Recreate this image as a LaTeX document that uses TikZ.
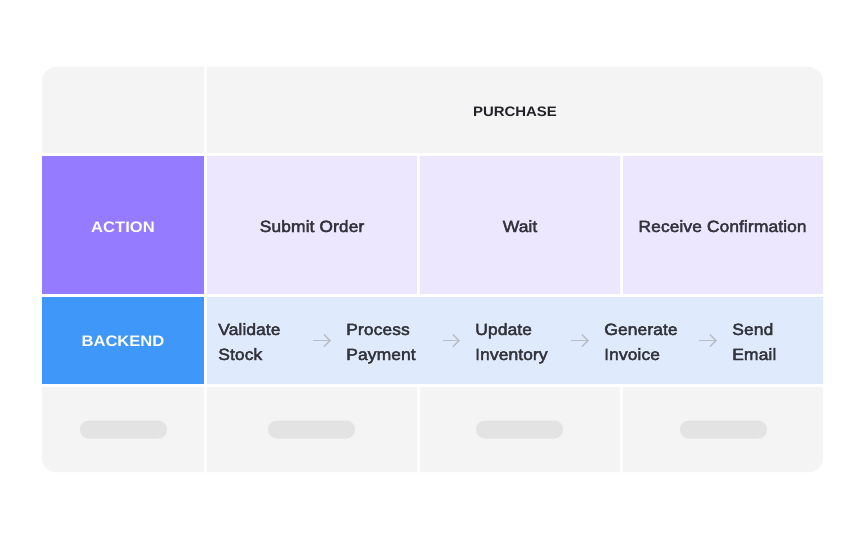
\documentclass[tikz,border=0pt]{standalone}
\usepackage{fontspec}
\setmainfont{Liberation Sans}[FakeStretch=1.09]
\newfontfamily\medfont{Liberation Sans}[FakeStretch=1.08,FakeBold=2.6]
\usetikzlibrary{arrows.meta}
\definecolor{bggray}{HTML}{F4F4F4}
\definecolor{actpurple}{HTML}{947BFF}
\definecolor{actlight}{HTML}{ECE6FE}
\definecolor{bkblue}{HTML}{3F97FA}
\definecolor{bklight}{HTML}{DFEBFC}
\definecolor{pillgray}{HTML}{E3E3E3}
\definecolor{textdark}{HTML}{33333B}
\definecolor{hdrdark}{HTML}{222228}
\definecolor{arrowgray}{HTML}{B9BDC6}
\tikzset{
  gap/.style={fill=white},
  pillshape/.style={fill=pillgray, rounded corners=8.9pt},
  hdrtext/.style={anchor=base, inner sep=0pt, text=hdrdark, font=\bfseries\fontsize{13.7}{16}\selectfont},
  lanetext/.style={anchor=base, inner sep=0pt, text=white, font=\bfseries\fontsize{15.2}{18}\selectfont},
  celltext/.style={anchor=base, inner sep=0pt, text=textdark, font=\medfont\fontsize{16.3}{25}\selectfont},
  steptext/.style={anchor=west, inner sep=0pt, align=left, text=textdark, font=\medfont\fontsize{16.3}{25}\selectfont},
  flow/.style={draw=arrowgray, line width=1.4pt, -{Straight Barb[length=6pt,width=12pt,line width=1.4pt]}}
}
\begin{document}
\begin{tikzpicture}[x=1pt,y=-1pt]
\useasboundingbox (0,0) rectangle (864,540);
\fill[white] (0,0) rectangle (864,540);
% table background
\fill[bggray, rounded corners=14pt] (42,67) rectangle (823,472);
% colored rows
\fill[actpurple] (42,156) rectangle (204,294);
\fill[actlight] (207,156) rectangle (823,294);
\fill[bkblue] (42,297) rectangle (204,384);
\fill[bklight] (207,297) rectangle (823,384);
% white gaps
\fill[gap] (42,153) rectangle (823,156);
\fill[gap] (42,294) rectangle (823,297);
\fill[gap] (42,384) rectangle (823,387);
\fill[gap] (204,67) rectangle (207,472);
\fill[gap] (417,156) rectangle (420,294);
\fill[gap] (620,156) rectangle (623,294);
\fill[gap] (417,387) rectangle (420,472);
\fill[gap] (620,387) rectangle (623,472);
% placeholder pills
\fill[pillshape] (80,420.5) rectangle (167,438.5);
\fill[pillshape] (268,420.5) rectangle (355,438.5);
\fill[pillshape] (476,420.5) rectangle (563,438.5);
\fill[pillshape] (680,420.5) rectangle (767,438.5);
% texts
\node[hdrtext] (purchase) at (515,116.5) {PURCHASE};
\node[lanetext] (action) at (123,232) {ACTION};
\node[lanetext] (backend) at (123,346) {BACKEND};
\node[celltext] (submit) at (312,232) {Submit Order};
\node[celltext] (wait) at (520,232) {Wait};
\node[celltext] (receive) at (722.5,232) {Receive Confirmation};
\node[steptext] (validate) at (218,342.5) {\strut Validate\\\strut Stock};
\node[steptext] (payment) at (346,342.5) {\strut Process\\\strut Payment};
\node[steptext] (inventory) at (475,342.5) {\strut Update\\\strut Inventory};
\node[steptext] (invoice) at (604,342.5) {\strut Generate\\\strut Invoice};
\node[steptext] (email) at (732,342.5) {\strut Send\\\strut Email};
% arrows
\draw[flow] ([xshift=95pt,yshift=1.8pt]validate.west) -- ([xshift=113pt,yshift=1.8pt]validate.west);
\draw[flow] ([xshift=97pt,yshift=1.8pt]payment.west) -- ([xshift=114pt,yshift=1.8pt]payment.west);
\draw[flow] ([xshift=96pt,yshift=1.8pt]inventory.west) -- ([xshift=114pt,yshift=1.8pt]inventory.west);
\draw[flow] ([xshift=95pt,yshift=1.8pt]invoice.west) -- ([xshift=113pt,yshift=1.8pt]invoice.west);
\end{tikzpicture}
\end{document}
